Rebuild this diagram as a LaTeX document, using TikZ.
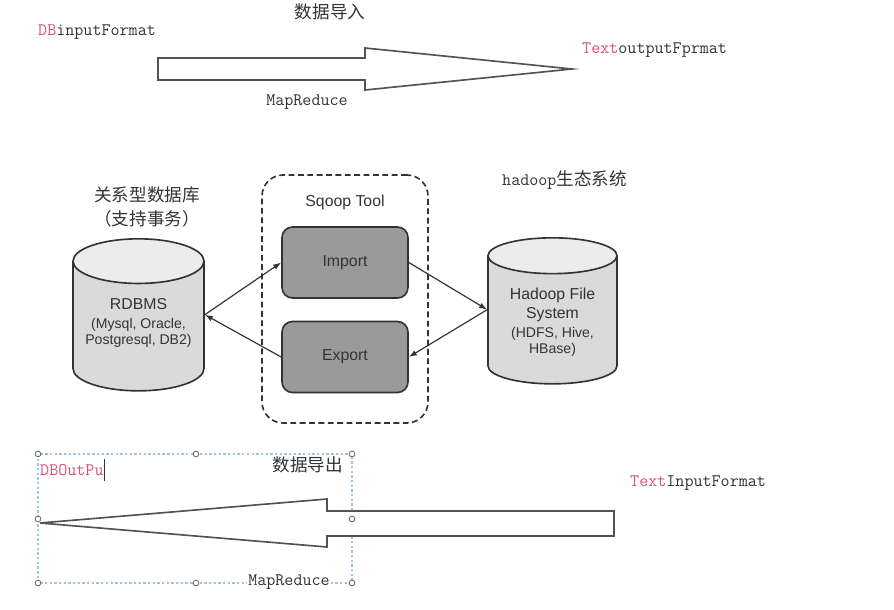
\documentclass[tikz,border=0pt]{standalone}
\usepackage{fontspec}
\usepackage{xcolor}
\usepackage{tikz}
\usetikzlibrary{arrows.meta,positioning,shapes.geometric}
\newfontfamily\cjk{Noto Sans CJK SC}
\newfontfamily\diagsans{Liberation Sans}
\definecolor{fmtred}{HTML}{D85470}
\definecolor{fmtgray}{HTML}{333333}
\definecolor{dbbody}{HTML}{DADADA}
\definecolor{dbtop}{HTML}{ECECEC}
\definecolor{toolfill}{HTML}{9A9A9A}
\definecolor{selblue}{HTML}{9CC3E0}
\tikzset{
  sqooppicture/.style={x=0.03cm, y=-0.03cm},
  sqoopdb/.style={cylinder, shape border rotate=90, draw=fmtgray, line width=1.4pt, aspect=0.42,
    cylinder uses custom fill, cylinder body fill=dbbody, cylinder end fill=dbtop,
    font=\diagsans\fontsize{13.5}{16}\selectfont, text=fmtgray, inner sep=0pt, anchor=north},
  sqoopbox/.style={draw=fmtgray, line width=1.4pt, rounded corners=9pt, fill=toolfill,
    minimum width=3.78cm, minimum height=2.13cm, font=\diagsans\fontsize{13.5}{16}\selectfont, text=fmtgray},
  sqoopframe/.style={draw=fmtgray, line width=1.4pt, dashed, dash pattern=on 5pt off 3pt, rounded corners=18pt,
    minimum width=4.98cm, minimum height=7.44cm},
  sqooplabel/.style={font=\diagsans\fontsize{13.5}{16}\selectfont, text=fmtgray, inner sep=0pt},
  sqoopcjk/.style={font=\cjk\fontsize{15}{21}\selectfont, text=fmtgray, inner sep=0pt, align=center},
  sqoopfmt/.style={font=\ttfamily\fontsize{15}{17}\selectfont, text=fmtgray, inner sep=0pt},
  sqoopbig/.style={draw=fmtgray!85, line width=1.4pt, fill=white, line join=miter},
  sqoopflow/.style={-{Latex[length=2.4mm, width=1.7mm]}, line width=1pt, draw=fmtgray},
  sqoopsel/.style={draw=selblue, line width=0.9pt, dash pattern=on 2pt off 2pt},
  sqoophandle/.style={circle, draw=gray!80!black, fill=white, line width=0.7pt, inner sep=0pt, minimum size=1.7mm}
}
\newcommand{\sml}{\fontsize{12}{14.5}\selectfont}
\newcommand{\dblines}[2]{\raisebox{#1}[\height][\depth]{\begin{tabular}{@{}c@{}}#2\end{tabular}}}
\begin{document}
\begin{tikzpicture}[sqooppicture]
\useasboundingbox (0,0) rectangle (894,609);
\node[sqoopcjk] (loadin) at (330,12) {数据导入};
\node[sqoopfmt, anchor=west] (dbinput) at (38,32) {\textcolor{fmtred}{DB}inputFormat};
\node[sqoopfmt, anchor=west] (textoutput) at (582,50) {\textcolor{fmtred}{Text}outputFprmat};
\draw[sqoopbig] (158,58) -- (365,58) -- (365,48) -- (572,69) -- (365,90) -- (365,80) -- (158,80) -- cycle;
\node[sqoopfmt] (mrtop) at (307,102) {MapReduce};
\node[sqoopcjk] (rdbtitle) at (147,207) {关系型数据库\\（支持事务）};
\node[sqoopfmt, anchor=west] (hadooptitle) at (502,180) {hadoop{\cjk\fontsize{15}{18}\selectfont 生态系统}};
\node[sqoopdb, minimum width=3.93cm, minimum height=4.56cm] (rdbms) at (138.5,238)
  {\dblines{3pt}{RDBMS\\[1pt]\sml(Mysql, Oracle,\\[-3pt]\sml Postgresql, DB2)}};
\node[sqoopdb, minimum width=3.87cm, minimum height=4.38cm] (hdfs) at (552.5,237)
  {\dblines{-2.5pt}{Hadoop File\\System\\\sml(HDFS, Hive,\\[-2pt]\sml HBase)}};
\node[sqoopframe] (sqoop) at (345,299) {};
\node[sqooplabel] (sqooptitle) at (345,202) {Sqoop Tool};
\node[sqoopbox] (import) at (345,262.5) {Import};
\node[sqoopbox] (export) at (345,357) {Export};
\draw[sqoopflow] ([yshift=10pt]rdbms.east) -- (import.west);
\draw[sqoopflow] (export.west) -- ([yshift=10pt]rdbms.east);
\draw[sqoopflow] (import.east) -- ([yshift=9pt]hdfs.west);
\draw[sqoopflow] ([yshift=9pt]hdfs.west) -- (export.east);
\draw[sqoopsel] (38,454) rectangle (352,583);
\draw[sqoopbig] (614,511) -- (327,511) -- (327,499) -- (40,523) -- (327,547) -- (327,536) -- (614,536) -- cycle;
\foreach \hx/\hy in {38/454, 196/454, 352/454, 38/519, 352/519, 38/583, 196/583, 352/583}
  \node[sqoophandle] at (\hx,\hy) {};
\node[sqoopfmt, anchor=west, text=fmtred] (dbout) at (40,470) {DBOutPu};
\draw[fmtgray, line width=0.7pt] (dbout.east) ++(1,-11) -- ++(0,22);
\node[sqoopcjk, anchor=east] (loadout) at (343,465) {数据导出};
\node[sqoopfmt, fill=white, inner sep=1pt] (mrbottom) at (289,582) {MapReduce};
\node[sqoopfmt, anchor=west] (textinput) at (630,483) {\textcolor{fmtred}{Text}InputFormat};
\end{tikzpicture}
\end{document}
